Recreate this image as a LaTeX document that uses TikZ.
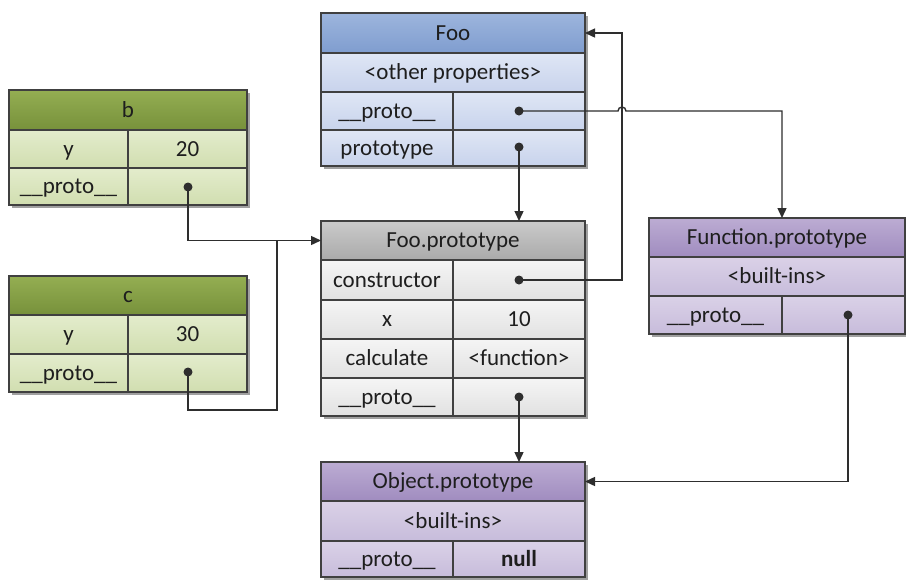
\documentclass[tikz,border=0pt]{standalone}
\usepackage{fontspec}
\setmainfont{Carlito}
\usetikzlibrary{arrows.meta,calc}
\definecolor{gHt}{HTML}{94AE52}
\definecolor{gHb}{HTML}{77913B}
\definecolor{gRt}{HTML}{E3ECCC}
\definecolor{gRb}{HTML}{D1DEB0}
\definecolor{bHt}{HTML}{9DB5DD}
\definecolor{bHb}{HTML}{7F9DCF}
\definecolor{bRt}{HTML}{DFE6F5}
\definecolor{bRb}{HTML}{C8D3EC}
\definecolor{yHt}{HTML}{CACACA}
\definecolor{yHb}{HTML}{AAAAAA}
\definecolor{yRt}{HTML}{F5F5F5}
\definecolor{yRb}{HTML}{E1E1E1}
\definecolor{pHt}{HTML}{BCACD3}
\definecolor{pHb}{HTML}{A08CBF}
\definecolor{pRt}{HTML}{DAD1E7}
\definecolor{pRb}{HTML}{C7BCDB}
\definecolor{linec}{HTML}{2E2E2E}
\definecolor{edgec}{HTML}{404040}
\definecolor{textc}{HTML}{1E1E1E}
\definecolor{shadowc}{HTML}{A0A0A0}
\newcommand\tcell[8]{%
  \node[cellbox, top color=#6, bottom color=#7,
        minimum width={(#4-#2)*1pt}, minimum height={(#5-#3)*1pt}] (#1) at (#2,#3) {#8};}
\newcommand\tshadow[4]{\fill[shadowc] (#1+3,#2+3) rectangle (#3+3,#4+3);}
\tikzset{
  cellbox/.style={draw=edgec, line width=1.1pt, anchor=north west, inner sep=0pt,
                  outer sep=0pt, text=textc, text height=14.5pt, text depth=0pt,
                  font=\fontsize{23}{27}\selectfont},
  dotnode/.style={circle, fill=linec, inner sep=0pt, minimum size=9pt},
  conn/.style={draw=linec, line width=1.4pt, -{Triangle[length=10pt,width=9pt]}},
  plain/.style={draw=linec, line width=1.4pt}
}
\begin{document}
\begin{tikzpicture}[x=1pt,y=-1pt]
\useasboundingbox (0,0) rectangle (906,579);
\fill[white] (0,0) rectangle (906,579);
% shadows
\tshadow{9}{90}{247}{205}
\tshadow{9}{276}{247}{392}
\tshadow{321}{13}{585}{166}
\tshadow{321}{221}{585}{416}
\tshadow{649}{218}{905}{334}
\tshadow{321}{462}{585}{577}
% b
\tcell{bh}{9}{90}{247}{130}{gHt}{gHb}{b}
\tcell{by1}{9}{130}{128}{168}{gRt}{gRb}{y}
\tcell{by2}{128}{130}{247}{168}{gRt}{gRb}{20}
\tcell{bp1}{9}{168}{128}{205}{gRt}{gRb}{\_\_proto\_\_}
\tcell{bp2}{128}{168}{247}{205}{gRt}{gRb}{}
% c
\tcell{ch}{9}{276}{247}{315}{gHt}{gHb}{c}
\tcell{cy1}{9}{315}{128}{354}{gRt}{gRb}{y}
\tcell{cy2}{128}{315}{247}{354}{gRt}{gRb}{30}
\tcell{cp1}{9}{354}{128}{392}{gRt}{gRb}{\_\_proto\_\_}
\tcell{cp2}{128}{354}{247}{392}{gRt}{gRb}{}
% Foo
\tcell{fh}{321}{13}{585}{53}{bHt}{bHb}{Foo}
\tcell{fo}{321}{53}{585}{92}{bRt}{bRb}{<other properties>}
\tcell{fp1}{321}{92}{453}{130}{bRt}{bRb}{\_\_proto\_\_}
\tcell{fp2}{453}{92}{585}{130}{bRt}{bRb}{}
\tcell{ft1}{321}{130}{453}{166}{bRt}{bRb}{prototype}
\tcell{ft2}{453}{130}{585}{166}{bRt}{bRb}{}
% Foo.prototype
\tcell{ph}{321}{221}{585}{260}{yHt}{yHb}{Foo.prototype}
\tcell{pc1}{321}{260}{453}{300}{yRt}{yRb}{constructor}
\tcell{pc2}{453}{260}{585}{300}{yRt}{yRb}{}
\tcell{px1}{321}{300}{453}{339}{yRt}{yRb}{x}
\tcell{px2}{453}{300}{585}{339}{yRt}{yRb}{10}
\tcell{pk1}{321}{339}{453}{378}{yRt}{yRb}{calculate}
\tcell{pk2}{453}{339}{585}{378}{yRt}{yRb}{<function>}
\tcell{pq1}{321}{378}{453}{416}{yRt}{yRb}{\_\_proto\_\_}
\tcell{pq2}{453}{378}{585}{416}{yRt}{yRb}{}
% Function.prototype
\tcell{uh}{649}{218}{905}{257}{pHt}{pHb}{Function.prototype}
\tcell{ub}{649}{257}{905}{296}{pRt}{pRb}{<built-ins>}
\tcell{uq1}{649}{296}{782}{334}{pRt}{pRb}{\_\_proto\_\_}
\tcell{uq2}{782}{296}{905}{334}{pRt}{pRb}{}
% Object.prototype
\tcell{oh}{321}{462}{585}{501}{pHt}{pHb}{Object.prototype}
\tcell{ob}{321}{501}{585}{541}{pRt}{pRb}{<built-ins>}
\tcell{oq1}{321}{541}{453}{577}{pRt}{pRb}{\_\_proto\_\_}
\tcell{oq2}{453}{541}{585}{577}{pRt}{pRb}{\textbf{null}}
% dots
\node[dotnode] (bdot) at (188,187) {};
\node[dotnode] (cdot) at (188,372) {};
\node[dotnode] (fpdot) at (519,111) {};
\node[dotnode] (ftdot) at (519,147) {};
\node[dotnode] (pcdot) at (519,280) {};
\node[dotnode] (pqdot) at (519,397) {};
\node[dotnode] (uqdot) at (848,315) {};
\coordinate (j) at ([xshift=-44pt]ph.west);
\coordinate (uarrow) at (uq1.east |- uh.north);
% connectors
\draw[conn] (bdot.center) |- (ph.west);
\draw[plain] (cdot.center) -- ++(0,38) -| (j);
\draw[conn] (ftdot.center) -- (ftdot.center |- ph.north);
\draw[conn] (pqdot.center) -- (pqdot.center |- oh.north);
\draw[conn] (pcdot.center) -- ++(103,0) |- (fh.east);
\draw[conn] (fpdot.center) -- ++(99,0) arc[start angle=180, end angle=0, radius=4pt] -| (uarrow);
\draw[conn] (uqdot.center) |- (oh.east);
\end{tikzpicture}
\end{document}
